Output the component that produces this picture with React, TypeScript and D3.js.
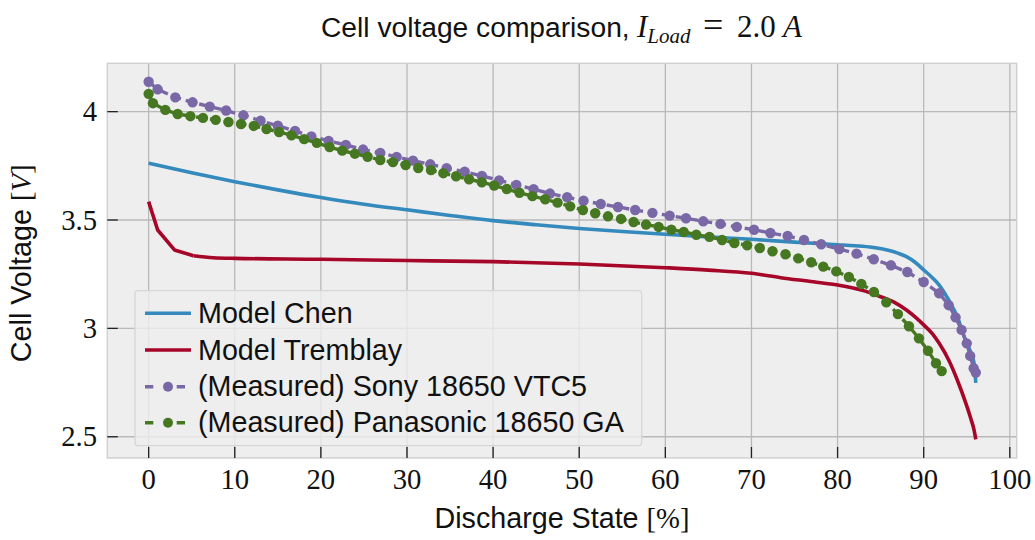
import React from "react";
import * as d3 from "d3";

// Discharge state [%] and cell voltage [V] for each series
const chenX = [0, 5, 10, 15, 20, 25, 30, 35, 40, 45, 50, 55, 60, 65, 70, 75, 80, 82, 84, 86, 87, 88, 89, 90, 91, 91.8, 92.9, 93.9, 94.7, 95.3, 95.85, 96.05];
const chenV = [3.762, 3.718, 3.677, 3.639, 3.604, 3.573, 3.547, 3.521, 3.497, 3.478, 3.461, 3.447, 3.434, 3.422, 3.411, 3.398, 3.386, 3.381, 3.374, 3.359, 3.347, 3.331, 3.305, 3.27, 3.234, 3.2, 3.131, 3.054, 2.962, 2.905, 2.839, 2.749];

const tremblayX = [0, 1.05, 3.0, 5.2, 7.5, 10, 20, 30, 40, 50, 60, 65, 70, 73.4, 77.2, 80, 83.1, 85, 86.6, 88, 89, 90, 91, 91.8, 92.9, 93.9, 94.9, 95.5, 95.85, 96.05];
const tremblayV = [3.585, 3.454, 3.362, 3.335, 3.326, 3.323, 3.319, 3.313, 3.308, 3.297, 3.28, 3.269, 3.254, 3.234, 3.215, 3.2, 3.173, 3.146, 3.12, 3.085, 3.053, 3.016, 2.976, 2.931, 2.854, 2.762, 2.654, 2.58, 2.531, 2.488];
// the first few Tremblay samples are joined by straight segments
const tremblayKnee = 3;

const sonyX = [0, 1.05, 3.1, 5.1, 7.1, 9.0, 11.0, 13.0, 15.0, 17.0, 18.9, 20.9, 22.9, 24.9, 26.9, 28.8, 30.7, 32.7, 34.6, 36.7, 38.7, 40.7, 42.7, 44.7, 46.6, 48.6, 50.5, 52.5, 54.5, 56.5, 58.5, 60.5, 62.4, 64.4, 66.4, 68.3, 70.3, 72.2, 74.2, 76.1, 78.1, 80.2, 82.2, 84.2, 86.2, 88.1, 90.0, 91.8, 92.9, 93.7, 94.4, 95.0, 95.4, 95.8, 96.05];
const sonyV = [4.138, 4.103, 4.066, 4.043, 4.023, 4.005, 3.983, 3.958, 3.935, 3.911, 3.886, 3.865, 3.846, 3.825, 3.809, 3.791, 3.774, 3.757, 3.739, 3.723, 3.703, 3.683, 3.662, 3.642, 3.622, 3.605, 3.589, 3.574, 3.56, 3.546, 3.533, 3.52, 3.508, 3.494, 3.482, 3.468, 3.455, 3.44, 3.426, 3.408, 3.388, 3.366, 3.345, 3.319, 3.291, 3.26, 3.214, 3.162, 3.107, 3.051, 2.993, 2.931, 2.873, 2.816, 2.796];

const panaX = [0, 0.5, 1.94, 3.37, 4.85, 6.31, 7.79, 9.27, 10.73, 12.21, 13.69, 15.15, 16.59, 18.06, 19.53, 21.01, 22.48, 23.95, 25.43, 26.9, 28.37, 29.85, 31.31, 32.79, 34.22, 35.7, 37.21, 38.69, 40.12, 41.59, 43.06, 44.57, 46.05, 47.48, 48.95, 50.43, 51.86, 53.34, 54.85, 56.31, 57.76, 59.22, 60.7, 62.13, 63.6, 65.12, 66.59, 68.02, 69.5, 70.97, 72.44, 73.95, 75.43, 76.94, 78.34, 79.85, 81.31, 82.76, 84.22, 85.66, 87.01, 88.29, 89.45, 90.5, 91.43, 92.09];
const panaV = [4.082, 4.039, 4.008, 3.989, 3.979, 3.971, 3.962, 3.952, 3.943, 3.934, 3.92, 3.906, 3.891, 3.873, 3.856, 3.837, 3.82, 3.806, 3.792, 3.777, 3.767, 3.754, 3.74, 3.73, 3.716, 3.702, 3.688, 3.674, 3.659, 3.643, 3.626, 3.61, 3.596, 3.58, 3.563, 3.546, 3.531, 3.517, 3.505, 3.491, 3.479, 3.468, 3.455, 3.445, 3.432, 3.422, 3.408, 3.394, 3.383, 3.371, 3.356, 3.342, 3.323, 3.305, 3.285, 3.263, 3.237, 3.205, 3.168, 3.12, 3.066, 3.01, 2.954, 2.897, 2.839, 2.803];

const xTicks = [0, 10, 20, 30, 40, 50, 60, 70, 80, 90, 100];
const yTicks = [2.5, 3, 3.5, 4];
const yTickLabels = ["2.5", "3", "3.5", "4"];

const legendLabels = [
  "Model Chen",
  "Model Tremblay",
  "(Measured) Sony 18650 VTC5",
  "(Measured) Panasonic 18650 GA",
];

const COLORS = { chen: "#348ABD", tremblay: "#A60628", sony: "#7A68A6", pana: "#467821" };

const W = 1035;
const H = 540;
const plot = { left: 107.3, top: 63.3, right: 1016.7, bottom: 458 };

const SANS = "'Liberation Sans', Arial, Helvetica, sans-serif";
const SERIF = "'Liberation Serif', 'Times New Roman', serif";
const FS = 28.7;

type Pt = [number, number];
const zip = (xs: number[], ys: number[]): Pt[] => xs.map((x, i) => [x, ys[i]]);

export default function App() {
  const x = d3.scaleLinear().domain([-4.8, 100.8]).range([plot.left, plot.right]);
  const y = d3.scaleLinear().domain([2.402, 4.223]).range([plot.bottom, plot.top]);

  const smooth = d3
    .line<Pt>()
    .x((d) => x(d[0]))
    .y((d) => y(d[1]))
    .curve(d3.curveMonotoneX);
  const straight = d3
    .line<Pt>()
    .x((d) => x(d[0]))
    .y((d) => y(d[1]));

  const chen = zip(chenX, chenV);
  const tremblay = zip(tremblayX, tremblayV);
  const sony = zip(sonyX, sonyV);
  const pana = zip(panaX, panaV);

  const lg = { x: 135, y: 290.7, w: 506.7, h: 155 };
  const rowY = [313.3, 350, 386.7, 422.7];
  const handle = { x1: 145, x2: 191, text: 198 };

  return (
    <svg
      width={W}
      height={H}
      viewBox={`0 0 ${W} ${H}`}
      style={{ position: "absolute", left: 0, top: 0, background: "#ffffff" }}
    >
      <defs>
        <clipPath id="plot-area">
          <rect x={plot.left} y={plot.top} width={plot.right - plot.left} height={plot.bottom - plot.top} />
        </clipPath>
      </defs>

      {/* axes background */}
      <rect
        x={plot.left}
        y={plot.top}
        width={plot.right - plot.left}
        height={plot.bottom - plot.top}
        fill="#eeeeee"
      />

      {/* grid */}
      <g stroke="#b9b9b9" strokeWidth={1.3}>
        {xTicks.map((t) => (
          <line key={`gx${t}`} x1={x(t)} x2={x(t)} y1={plot.top} y2={plot.bottom} />
        ))}
        {yTicks.map((t) => (
          <line key={`gy${t}`} x1={plot.left} x2={plot.right} y1={y(t)} y2={y(t)} />
        ))}
      </g>

      {/* series */}
      <g clipPath="url(#plot-area)" fill="none" strokeLinejoin="round">
        <path d={smooth(chen) ?? ""} stroke={COLORS.chen} strokeWidth={3.6} />
        <path
          d={straight(tremblay.slice(0, tremblayKnee + 1)) ?? ""}
          stroke={COLORS.tremblay}
          strokeWidth={3.6}
        />
        <path
          d={smooth(tremblay.slice(tremblayKnee)) ?? ""}
          stroke={COLORS.tremblay}
          strokeWidth={3.6}
        />
        <path d={straight(sony) ?? ""} stroke={COLORS.sony} strokeWidth={3.4} strokeDasharray="9 5" />
        {sony.map((d, i) => (
          <circle key={`s${i}`} cx={x(d[0])} cy={y(d[1])} r={5.2} fill={COLORS.sony} stroke="none" />
        ))}
        <path d={straight(pana) ?? ""} stroke={COLORS.pana} strokeWidth={3.4} strokeDasharray="9 5" />
        {pana.map((d, i) => (
          <circle key={`p${i}`} cx={x(d[0])} cy={y(d[1])} r={5.2} fill={COLORS.pana} stroke="none" />
        ))}
      </g>

      {/* frame */}
      <rect
        x={plot.left}
        y={plot.top}
        width={plot.right - plot.left}
        height={plot.bottom - plot.top}
        fill="none"
        stroke="#cfcfcf"
        strokeWidth={1.4}
      />

      {/* ticks (inward) */}
      <g stroke="#222" strokeWidth={1.3}>
        {xTicks.map((t) => (
          <line key={`tx${t}`} x1={x(t)} x2={x(t)} y1={plot.bottom} y2={plot.bottom - 11} />
        ))}
        {yTicks.map((t) => (
          <line key={`ty${t}`} x1={plot.left} x2={plot.left + 10.5} y1={y(t)} y2={y(t)} />
        ))}
      </g>

      {/* tick labels */}
      <g fontFamily={SERIF} fontSize={FS} fill="#111">
        {xTicks.map((t) => (
          <text key={`lx${t}`} x={x(t)} y={489} textAnchor="middle">
            {t}
          </text>
        ))}
        {yTicks.map((t, i) => (
          <text key={`ly${t}`} x={97} y={y(t) + 9.7} textAnchor="end">
            {yTickLabels[i]}
          </text>
        ))}
      </g>

      {/* axis labels */}
      <text x={562} y={528} textAnchor="middle" fontSize={FS} fill="#111">
        <tspan fontFamily={SANS}>Discharge State </tspan>
        <tspan fontFamily={SERIF}>[%]</tspan>
      </text>
      <text
        transform="translate(30.5,263.3) rotate(-90)"
        textAnchor="middle"
        fontSize={FS}
        fill="#111"
      >
        <tspan fontFamily={SANS}>Cell Voltage </tspan>
        <tspan fontFamily={SERIF}>[</tspan>
        <tspan fontFamily={SERIF} fontStyle="italic">V</tspan>
        <tspan fontFamily={SERIF}>]</tspan>
      </text>

      {/* title */}
      <text y={37} fill="#111">
        <tspan x={321} fontFamily={SANS} fontSize={28.2}>Cell voltage comparison,</tspan>
        <tspan x={637} fontFamily={SERIF} fontStyle="italic" fontSize={31}>I</tspan>
        <tspan fontFamily={SERIF} fontStyle="italic" fontSize={21} dy={6}>Load</tspan>
        <tspan x={703} fontFamily={SERIF} fontSize={36} dy={-6}>=</tspan>
        <tspan x={737} fontFamily={SERIF} fontSize={31}>2.0</tspan>
        <tspan x={783} fontFamily={SERIF} fontStyle="italic" fontSize={31}>A</tspan>
      </text>

      {/* legend */}
      <rect
        x={lg.x}
        y={lg.y}
        width={lg.w}
        height={lg.h}
        rx={3}
        fill="#eeeeee"
        fillOpacity={0.8}
        stroke="#d6d6d6"
        strokeWidth={1.3}
      />
      <line x1={handle.x1} x2={handle.x2} y1={rowY[0]} y2={rowY[0]} stroke={COLORS.chen} strokeWidth={3.6} />
      <line x1={handle.x1} x2={handle.x2} y1={rowY[1]} y2={rowY[1]} stroke={COLORS.tremblay} strokeWidth={3.6} />
      {[
        { c: COLORS.sony, yy: rowY[2] },
        { c: COLORS.pana, yy: rowY[3] },
      ].map((h, i) => (
        <g key={`lh${i}`}>
          <line
            x1={handle.x1}
            x2={handle.x2}
            y1={h.yy}
            y2={h.yy}
            stroke={h.c}
            strokeWidth={3.4}
            strokeDasharray="8.3 23.4 8.3 10"
          />
          <circle cx={(handle.x1 + handle.x2) / 2} cy={h.yy} r={5} fill={h.c} />
        </g>
      ))}
      <g fontFamily={SANS} fontSize={FS} fill="#111">
        {legendLabels.map((l, i) => (
          <text key={l} x={handle.text} y={rowY[i] + 9.6}>
            {l}
          </text>
        ))}
      </g>
    </svg>
  );
}
